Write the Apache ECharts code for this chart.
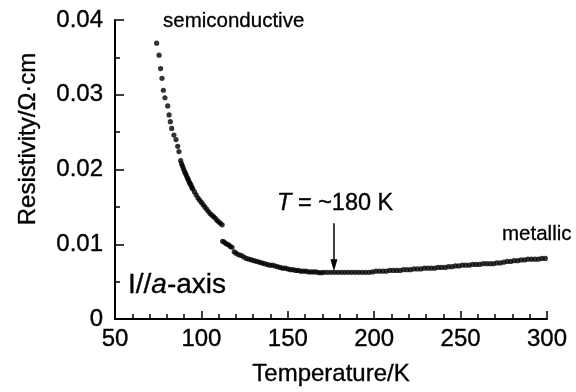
<!DOCTYPE html>
<html>
<head>
<meta charset="utf-8">
<script src="https://cdn.jsdelivr.net/npm/echarts@6/dist/echarts.min.js"></script>
<style>
html,body{margin:0;padding:0;background:#fff;}
#chart{width:576px;height:392px;}
</style>
</head>
<body>
<div id="chart"></div>
<script>
// Upper (semiconductive) branch
var tempUpper = [74.1,75.5,76.4,77.2,78.0,78.9,80.5,81.3,82.0,82.8,84.1,85.3,86.3,87.0,
  88,88.5,89,89.5,90,90.5,91,91.5,92,92.5,93,93.5,94,94.5,95,96,97,98,99,100,101,102,103,104,105,106,107,108,109,110,111,112];
var rhoUpper = [0.0369,0.0353,0.0335,0.0322,0.0306,0.0296,0.0285,0.0273,0.0264,0.0255,0.0246,0.0240,0.0231,0.0224,
  0.0212,0.0208,0.0205,0.0202,0.0199,0.0196,0.0194,0.0191,0.0188,0.0186,0.0183,0.0181,0.0179,0.0176,0.0174,0.0170,0.0166,0.0162,0.0159,0.0156,0.0153,0.0150,0.0147,0.0144,0.0141,0.0139,0.0137,0.0135,0.0132,0.0130,0.0128,0.0126];
// Lower (metallic) branch
var tempLower = [112.3,113.2,114.1,115.0,115.9,116.8,117.7,119.0,120.0,121.5,123,124.5,126,127.5,129,130.5,132,133.5,135,136.5,138,139.5,141,142.5,144,145.5,147,148.5,150,151.5,153,154.5,156,157.5,159,160.5,162,163.5,165,166.5,168,169.5,
  171,173,175,177,179,181,183,185,187,189,191,193,195,197,199,201,203,205,207,209,211,213,215,217,219,221,223,225,227,229,231,233,235,237,239,241,243,245,247,249,251,253,255,257,259,261,263,265,267,269,271,273,275,277,279,281,283,285,287,289,291,293,295,297,299];
var rhoLower = [0.0104,0.0103,0.0101,0.0100,0.0099,0.0097,0.0096,0.0090,0.0088,0.0086,0.0085,0.0083,0.0081,0.0080,0.0079,0.0078,0.0077,0.0076,0.0075,0.0074,0.0073,0.0072,0.0072,0.0071,0.0070,0.0069,0.0068,0.0068,0.0067,0.0066,0.0066,0.0065,0.0065,0.0064,0.0064,0.0064,0.0063,0.0063,0.0063,0.0063,0.0062,0.0062,
  0.00625,0.00625,0.00625,0.00625,0.00625,0.00625,0.00625,0.00625,0.00625,0.00625,0.00625,0.00625,0.00625,0.00625,0.0063,0.0064,0.0064,0.0064,0.0064,0.0065,0.0065,0.0065,0.0065,0.0066,0.0066,0.0066,0.0067,0.0067,0.0067,0.0068,0.0068,0.0068,0.0068,0.0069,0.0069,0.0069,0.0070,0.0070,0.0071,0.0071,0.0072,0.0072,0.0072,0.0073,0.0073,0.0073,0.0074,0.0074,0.0074,0.0074,0.0075,0.0075,0.0076,0.0077,0.0077,0.0078,0.0078,0.0079,0.0079,0.0080,0.0080,0.0080,0.0080,0.0081,0.0081];
// Axis ticks
var xTicks = [50,100,150,200,250,300];
var yTicks = [0,0.01,0.02,0.03,0.04];
// Arrow annotation (T ~ 180 K marker)
var arrowT = 176.7;
var arrowRho = [0.0128, 0.0072];

var FONT = '"Liberation Sans", Arial, Helvetica, sans-serif';
var B = {textBorderColor:'#000', textBorderWidth:0.35};
var data = [];
tempUpper.forEach(function(t,i){ data.push([t, rhoUpper[i]]); });
tempLower.forEach(function(t,i){ data.push([t, rhoLower[i]]); });

var chart = echarts.init(document.getElementById('chart'), null, {renderer:'canvas'});
chart.setOption({
  animation:false,
  backgroundColor:'#fff',
  grid:{left:115, right:29, top:20, bottom:73, containLabel:false},
  xAxis:{
    type:'value', min:xTicks[0], max:xTicks[xTicks.length-1], interval:50,
    name:'Temperature/K', nameLocation:'middle', nameGap:43,
    nameTextStyle:Object.assign({fontFamily:FONT, fontSize:24, color:'#000'}, B),
    axisLine:{lineStyle:{color:'#000', width:2}},
    axisTick:{inside:true, length:8, lineStyle:{color:'#000', width:1.5}},
    minorTick:{show:true, splitNumber:5, length:5, lineStyle:{color:'#000', width:1.5}},
    splitLine:{show:false},
    axisLabel:Object.assign({fontFamily:FONT, fontSize:24, color:'#000', margin:8}, B)
  },
  yAxis:{
    type:'value', min:yTicks[0], max:yTicks[yTicks.length-1], interval:0.01,
    axisLine:{show:true, lineStyle:{color:'#000', width:2}},
    axisTick:{show:true, inside:true, length:9, lineStyle:{color:'#000', width:1.5}},
    minorTick:{show:true, splitNumber:2, length:5, lineStyle:{color:'#000', width:1.5}},
    splitLine:{show:false},
    axisLabel:Object.assign({fontFamily:FONT, fontSize:24, color:'#000', margin:12,
      formatter:function(v){ return v===0 ? '0' : v.toFixed(2); }}, B)
  },
  series:[{
    type:'scatter',
    data:data,
    symbol:'circle',
    symbolSize:5.2,
    itemStyle:{color:'#000'},
    silent:true,
    markLine:{
      silent:true,
      animation:false,
      label:{show:false},
      lineStyle:{color:'#000', width:1.5, type:'solid'},
      data:[[
        {coord:[arrowT, arrowRho[0]], symbol:'none'},
        {coord:[arrowT, arrowRho[1]], symbol:'triangle', symbolSize:[7,12], symbolRotate:180}
      ]]
    }
  }],
  graphic:[
    {type:'text', x:28, y:139, rotation:Math.PI/2,
      style:Object.assign({text:'Resistivity/Ω·cm', font:'24px '+FONT, fill:'#000', textAlign:'center', textVerticalAlign:'middle'},{stroke:'#000', lineWidth:0.35})},
    {type:'text', x:163, y:21, style:{text:'semiconductive', font:'20.5px '+FONT, fill:'#000', stroke:'#000', lineWidth:0.3, textAlign:'left', textVerticalAlign:'middle'}},
    {type:'text', x:502, y:234.5, style:{text:'metallic', font:'20.5px '+FONT, fill:'#000', stroke:'#000', lineWidth:0.3, textAlign:'left', textVerticalAlign:'middle'}},
    {type:'text', x:277, y:203.5, style:{
      text:'{i|T} = ~180 K', fontFamily:FONT, fontSize:23.5, fill:'#000', stroke:'#000', lineWidth:0.35, textAlign:'left', textVerticalAlign:'middle',
      rich:{i:{fontStyle:'italic', fontFamily:FONT, fontSize:23.5, fill:'#000', stroke:'#000', lineWidth:0.35}}}},
    {type:'text', x:128, y:285, style:{
      text:'I//{i|a}-axis', fontFamily:FONT, fontSize:28, fill:'#000', stroke:'#000', lineWidth:0.35, textAlign:'left', textVerticalAlign:'middle',
      rich:{i:{fontStyle:'italic', fontFamily:FONT, fontSize:28, fill:'#000', stroke:'#000', lineWidth:0.35}}}}
  ]
});
</script>
</body>
</html>
